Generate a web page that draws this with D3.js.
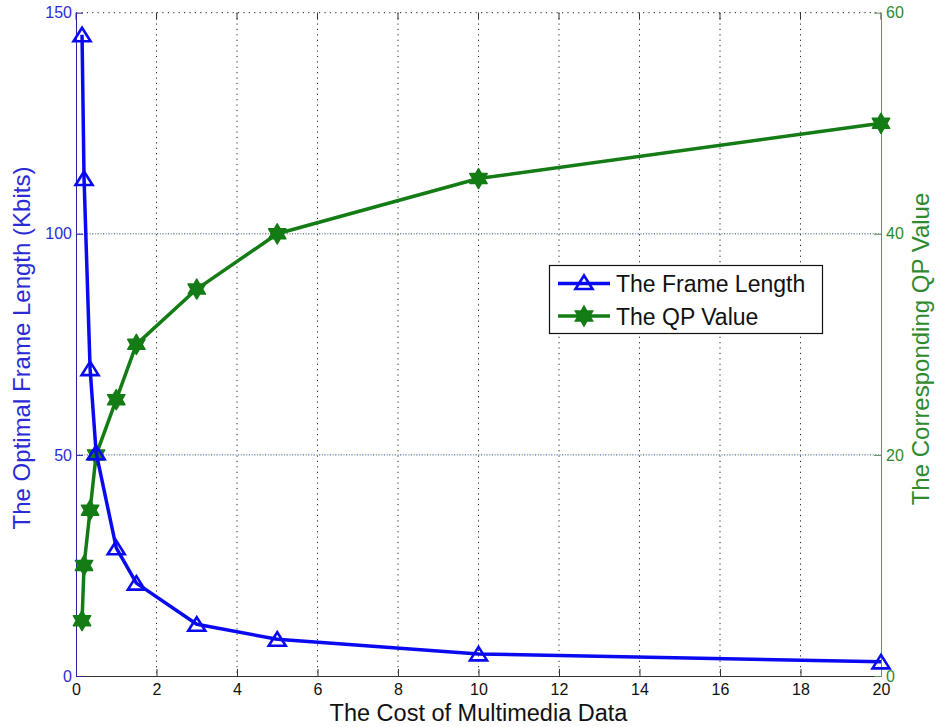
<!DOCTYPE html>
<html>
<head>
<meta charset="utf-8">
<script src="https://cdn.jsdelivr.net/npm/d3@7"></script>
<style>
  html, body { margin: 0; padding: 0; background: #fff; }
  svg { display: block; font-family: "Liberation Sans", Arial, sans-serif; }
</style>
</head>
<body>
<svg id="chart" width="937" height="727"></svg>
<script>
// Cost of multimedia data (x) with the resulting optimal frame length and QP value
const cost = [0.15, 0.2, 0.35, 0.5, 1, 1.5, 3, 5, 10, 20];
const frameLength = [145, 112.5, 69.5, 50.5, 29, 21, 11.7, 8.3, 5, 3.2];
const qpValue = [5, 10, 15, 20, 25, 30, 35, 40, 45, 50];

const xTicks = [0, 2, 4, 6, 8, 10, 12, 14, 16, 18, 20];
const leftTicks = [0, 50, 100, 150];
const rightTicks = [0, 20, 40, 60];
const seriesNames = ["The Frame Length", "The QP Value"];

const blue = "#0a0af0", blueText = "#2b2bd6", blueAxis = "#26269a";
const green = "#147c14", greenText = "#2f8a2f", greenAxis = "#5a945a";

const svg = d3.select("#chart");
const L = 76, R = 881, T = 12.7, B = 676;

const x = d3.scaleLinear().domain([0, 20]).range([L, R]);
const yL = d3.scaleLinear().domain([0, 150]).range([B, T]);
const yR = d3.scaleLinear().domain([0, 60]).range([B, T]);

// grid: vertical dotted lines at x ticks
const grid = svg.append("g");
grid.selectAll("line.vx").data(xTicks.filter(d => d > 0 && d < 20)).join("line")
  .attr("x1", d => x(d)).attr("x2", d => x(d)).attr("y1", T).attr("y2", B)
  .attr("stroke", "#222").attr("stroke-width", 1).attr("stroke-dasharray", "1.2,4.2");
// horizontal grid of both y axes (same positions)
grid.selectAll("line.hl").data(leftTicks.filter(d => d > 0)).join("line")
  .attr("x1", L).attr("x2", R).attr("y1", d => yL(d)).attr("y2", d => yL(d))
  .attr("stroke", d => d === 150 ? "#222" : "#3a3ab0").attr("stroke-width", 1)
  .attr("stroke-dasharray", "1.2,4.2");
grid.selectAll("line.hr").data(rightTicks.filter(d => d > 0 && d < 60)).join("line")
  .attr("x1", L).attr("x2", R).attr("y1", d => yR(d)).attr("y2", d => yR(d))
  .attr("stroke", "#5a8a5a").attr("stroke-width", 1)
  .attr("stroke-dasharray", "1.2,4.2").attr("stroke-dashoffset", 2.6);

// axes (ticks point inward)
const tickLen = 7;
const xAxisG = svg.append("g").attr("transform", `translate(0,${B})`)
  .call(d3.axisBottom(x).tickValues(xTicks).tickSizeInner(-tickLen).tickSizeOuter(0).tickPadding(8));
xAxisG.select(".domain").attr("stroke", "#333");
xAxisG.selectAll(".tick line").attr("stroke", "#333");
xAxisG.selectAll(".tick text").attr("fill", "#111").attr("font-size", 16)
  .attr("font-family", "Liberation Sans, Arial, sans-serif");

// top edge tick marks
svg.append("g").selectAll("line").data(xTicks).join("line")
  .attr("x1", d => x(d)).attr("x2", d => x(d)).attr("y1", T).attr("y2", T + tickLen)
  .attr("stroke", "#333");

const yLAxisG = svg.append("g").attr("transform", `translate(${L},0)`)
  .call(d3.axisLeft(yL).tickValues(leftTicks).tickSizeInner(-tickLen).tickSizeOuter(0).tickPadding(4));
yLAxisG.select(".domain").attr("stroke", blueAxis);
yLAxisG.selectAll(".tick line").attr("stroke", blueAxis);
yLAxisG.selectAll(".tick text").attr("fill", blueText).attr("font-size", 16)
  .attr("font-family", "Liberation Sans, Arial, sans-serif");

const yRAxisG = svg.append("g").attr("transform", `translate(${R},0)`)
  .call(d3.axisRight(yR).tickValues(rightTicks).tickSizeInner(-tickLen).tickSizeOuter(0).tickPadding(5));
yRAxisG.select(".domain").attr("stroke", greenAxis);
yRAxisG.selectAll(".tick line").attr("stroke", greenAxis);
yRAxisG.selectAll(".tick text").attr("fill", greenText).attr("font-size", 16)
  .attr("font-family", "Liberation Sans, Arial, sans-serif");

// axis titles
svg.append("text").attr("x", (L + R) / 2).attr("y", 721).attr("text-anchor", "middle")
  .attr("font-size", 23.5).attr("fill", "#111").text("The Cost of Multimedia Data");
svg.append("text").attr("transform", "translate(30,348) rotate(-90)").attr("text-anchor", "middle")
  .attr("font-size", 24).attr("fill", blueText).text("The Optimal Frame Length (Kbits)");
svg.append("text").attr("transform", "translate(929,349) rotate(-90)").attr("text-anchor", "middle")
  .attr("font-size", 24).attr("fill", greenText).text("The Corresponding QP Value");

// marker shapes
const triPath = "M0,-7 L8.5,6.5 L-8.5,6.5 Z";
function hexagram(r) {
  const pts = [];
  for (let i = 0; i < 12; i++) {
    const a = -Math.PI / 2 + i * Math.PI / 6;
    const rr = i % 2 === 0 ? r : r / Math.sqrt(3);
    pts.push([rr * Math.cos(a), rr * Math.sin(a)]);
  }
  return "M" + pts.map(p => p.join(",")).join("L") + "Z";
}
const starPath = hexagram(10);

const frameData = cost.map((c, i) => ({ x: c, y: frameLength[i] }));
const qpData = cost.map((c, i) => ({ x: c, y: qpValue[i] }));

// QP value series (green, right axis)
svg.append("path").datum(qpData)
  .attr("d", d3.line().x(d => x(d.x)).y(d => yR(d.y)))
  .attr("fill", "none").attr("stroke", green).attr("stroke-width", 3.5).attr("stroke-linejoin", "round");
svg.append("g").selectAll("path").data(qpData).join("path")
  .attr("d", starPath).attr("transform", d => `translate(${x(d.x)},${yR(d.y)})`)
  .attr("fill", green).attr("stroke", green).attr("stroke-width", 1.5).attr("stroke-linejoin", "round");

// frame length series (blue, left axis)
svg.append("path").datum(frameData)
  .attr("d", d3.line().x(d => x(d.x)).y(d => yL(d.y)))
  .attr("fill", "none").attr("stroke", blue).attr("stroke-width", 3.5).attr("stroke-linejoin", "round");
svg.append("g").selectAll("path").data(frameData).join("path")
  .attr("d", triPath).attr("transform", d => `translate(${x(d.x)},${yL(d.y)})`)
  .attr("fill", "none").attr("stroke", blue).attr("stroke-width", 2.6).attr("stroke-linejoin", "miter");

// legend
const lg = svg.append("g");
lg.append("rect").attr("x", 549.5).attr("y", 265.5).attr("width", 273).attr("height", 68)
  .attr("fill", "#fff").attr("stroke", "#111").attr("stroke-width", 1.2);
const legendItems = [
  { name: seriesNames[0], color: blue, marker: "tri", y: 283.5 },
  { name: seriesNames[1], color: green, marker: "star", y: 316 }
];
legendItems.forEach(it => {
  lg.append("line").attr("x1", 558).attr("x2", 610).attr("y1", it.y).attr("y2", it.y)
    .attr("stroke", it.color).attr("stroke-width", 3.5);
  if (it.marker === "tri") {
    lg.append("path").attr("d", triPath).attr("transform", `translate(584,${it.y - 1})`)
      .attr("fill", "none").attr("stroke", it.color).attr("stroke-width", 2.6);
  } else {
    lg.append("path").attr("d", starPath).attr("transform", `translate(584,${it.y})`)
      .attr("fill", it.color).attr("stroke", it.color).attr("stroke-width", 1.5);
  }
  lg.append("text").attr("x", 616).attr("y", it.y + 8.5).attr("font-size", 23)
    .attr("fill", "#111").text(it.name);
});
</script>
</body>
</html>
